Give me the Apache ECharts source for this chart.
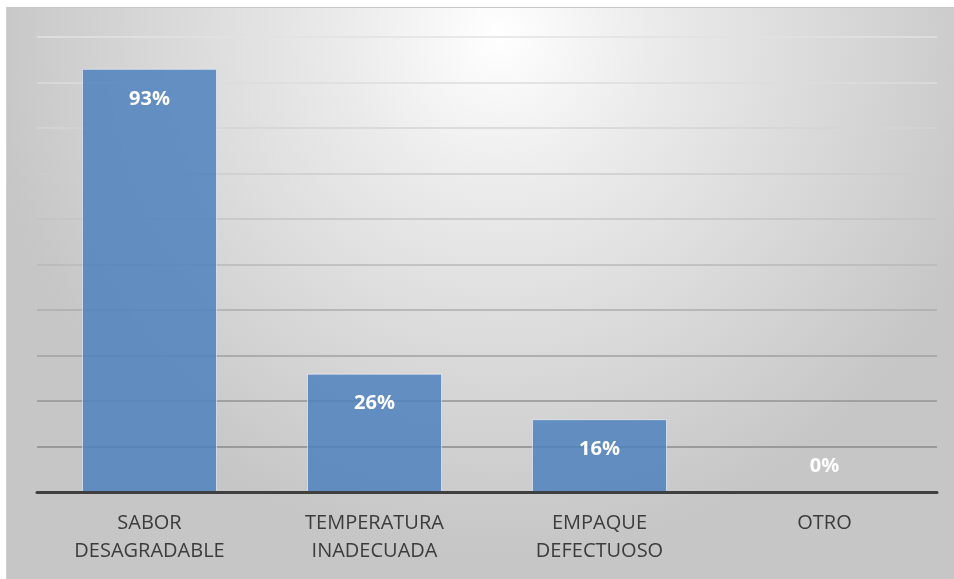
<!DOCTYPE html>
<html>
<head>
<meta charset="utf-8">
<script src="https://cdn.jsdelivr.net/npm/echarts@6/dist/echarts.min.js"></script>
<style>
html,body{margin:0;padding:0;background:#fff;}
#c{width:954px;height:579px;}
</style>
</head>
<body>
<div id="c"></div>
<script>
const categories = ['SABOR\nDESAGRADABLE', 'TEMPERATURA\nINADECUADA', 'EMPAQUE\nDEFECTUOSO', 'OTRO'];
const values = [93, 26, 16, 0];
const yTicks = [0, 10, 20, 30, 40, 50, 60, 70, 80, 90, 100];

const chart = echarts.init(document.getElementById('c'), null, {renderer: 'canvas'});
const font = '"Open Sans", "Liberation Sans", sans-serif';
chart.setOption({
  animation: false,
  backgroundColor: '#ffffff',
  graphic: [
    {
      type: 'rect', z: -100, silent: true,
      shape: {x: 6, y: 7, width: 948, height: 572},
      style: {
        fill: {
          type: 'radial', x: 0.52, y: 0.05, r: 0.9, global: false,
          colorStops: [
            {offset: 0, color: '#ffffff'},
            {offset: 0.3, color: '#ebebeb'},
            {offset: 1, color: '#c6c6c6'}
          ]
        }
      }
    },
    {
      type: 'line', z: -99, silent: true,
      shape: {x1: 6, y1: 7.5, x2: 954, y2: 7.5},
      style: {stroke: '#c4c4c4', lineWidth: 1}
    },
    {
      type: 'line', z: -99, silent: true,
      shape: {x1: 6.5, y1: 7, x2: 6.5, y2: 579},
      style: {stroke: '#d0d0d0', lineWidth: 1}
    }
  ],
  grid: {left: 37, right: 17, top: 37, bottom: 87, containLabel: false},
  xAxis: {
    type: 'category',
    data: categories,
    axisTick: {show: false},
    axisLine: {show: true, lineStyle: {color: '#3f3f3f', width: 3}},
    axisLabel: {
      color: '#3c3c3c', fontFamily: font, fontSize: 20, lineHeight: 28, margin: 17,
      interval: 0
    },
    z: 5
  },
  yAxis: {
    type: 'value',
    min: yTicks[0], max: yTicks[yTicks.length - 1], interval: 10,
    axisLabel: {show: false},
    axisLine: {show: false},
    axisTick: {show: false},
    splitLine: {
      show: true,
      lineStyle: {
        width: 1.5,
        color: ['#888888', '#8a8a8a', '#939393', '#a0a0a0', '#adadad', '#b8b8b8', '#c3c3c3', '#cdcdcd', '#d5d5d5', '#dcdcdc', '#e2e2e2']
      }
    }
  },
  series: [{
    type: 'bar',
    data: values.map(v => v === 0 ? {value: v, label: {position: 'top', distance: 15}} : v),
    barWidth: 135,
    itemStyle: {
      color: 'rgba(79,129,189,0.85)',
      borderColor: 'rgba(255,255,255,0.55)',
      borderWidth: 1
    },
    label: {
      show: true,
      position: 'insideTop',
      distance: 20,
      formatter: p => p.value + '%',
      color: '#ffffff',
      fontFamily: font,
      fontWeight: 'bold',
      fontSize: 20
    },
    z: 2
  }]
});
</script>
</body>
</html>
